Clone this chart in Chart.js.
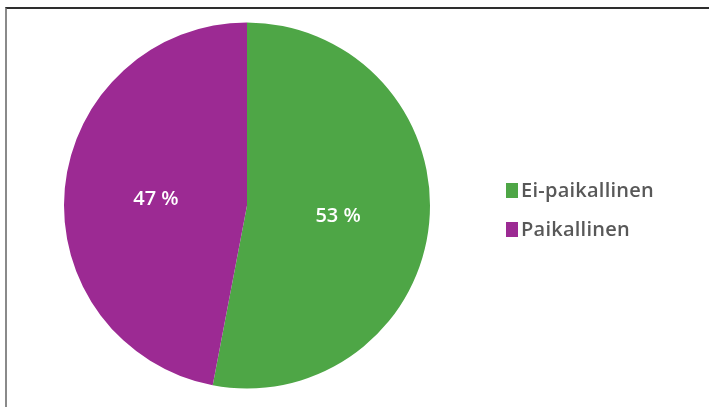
<!DOCTYPE html>
<html>
<head>
<meta charset="utf-8">
<script src="https://cdn.jsdelivr.net/npm/chart.js@4"></script>
<style>
  html, body { margin: 0; padding: 0; background: #fff; }
  #wrap { position: relative; width: 709px; height: 407px; overflow: hidden; }
  #frame {
    position: absolute; left: 5px; top: 7px; right: -4px; bottom: -4px;
    border-top: 2px solid #2e2e2e; border-left: 2px solid #8a8a8a;
  }
  canvas { position: absolute; left: 0; top: 0; }
</style>
</head>
<body>
<div id="wrap">
  <div id="frame"></div>
  <canvas id="pie" width="709" height="407"></canvas>
</div>
<script>
var categories = ['Ei-paikallinen', 'Paikallinen'];
var shares = [53, 47];
var colors = ['#4ea646', '#9c2a93'];

// percentage text inside each slice
var sliceLabels = {
  id: 'sliceLabels',
  afterDatasetsDraw: function (chart) {
    var ctx = chart.ctx;
    var meta = chart.getDatasetMeta(0);
    ctx.save();
    ctx.fillStyle = '#ffffff';
    ctx.font = '600 20px "Open Sans", sans-serif';
    ctx.textAlign = 'center';
    ctx.textBaseline = 'middle';
    meta.data.forEach(function (arc, i) {
      var p = arc.getProps(['x', 'y', 'startAngle', 'endAngle', 'outerRadius'], true);
      var mid = (p.startAngle + p.endAngle) / 2;
      var r = p.outerRadius * 0.5;
      ctx.fillText(shares[i] + ' %', p.x + Math.cos(mid) * r, p.y + Math.sin(mid) * r + 2);
    });
    ctx.restore();
  }
};

// legend on the right, one row per category
var sideLegend = {
  id: 'sideLegend',
  afterDraw: function (chart) {
    var ctx = chart.ctx;
    var x = 506, y = 190.5, step = 39;
    ctx.save();
    ctx.font = '600 20px "Open Sans", sans-serif';
    ctx.letterSpacing = '0.25px';
    ctx.textBaseline = 'middle';
    categories.forEach(function (name, i) {
      var cy = y + i * step;
      ctx.fillStyle = colors[i];
      ctx.fillRect(x, cy - 7.5, 12, 15);
      ctx.fillStyle = '#585858';
      ctx.fillText(name, x + 15, cy + 1);
    });
    ctx.restore();
  }
};

new Chart(document.getElementById('pie').getContext('2d'), {
  type: 'pie',
  data: {
    labels: categories,
    datasets: [{ data: shares, backgroundColor: colors, borderWidth: 0 }]
  },
  options: {
    responsive: false,
    animation: false,
    layout: { padding: { top: 22, bottom: 18, left: 64, right: 279 } },
    plugins: {
      legend: { display: false },
      tooltip: { enabled: false }
    }
  },
  plugins: [sliceLabels, sideLegend]
});
</script>
</body>
</html>
